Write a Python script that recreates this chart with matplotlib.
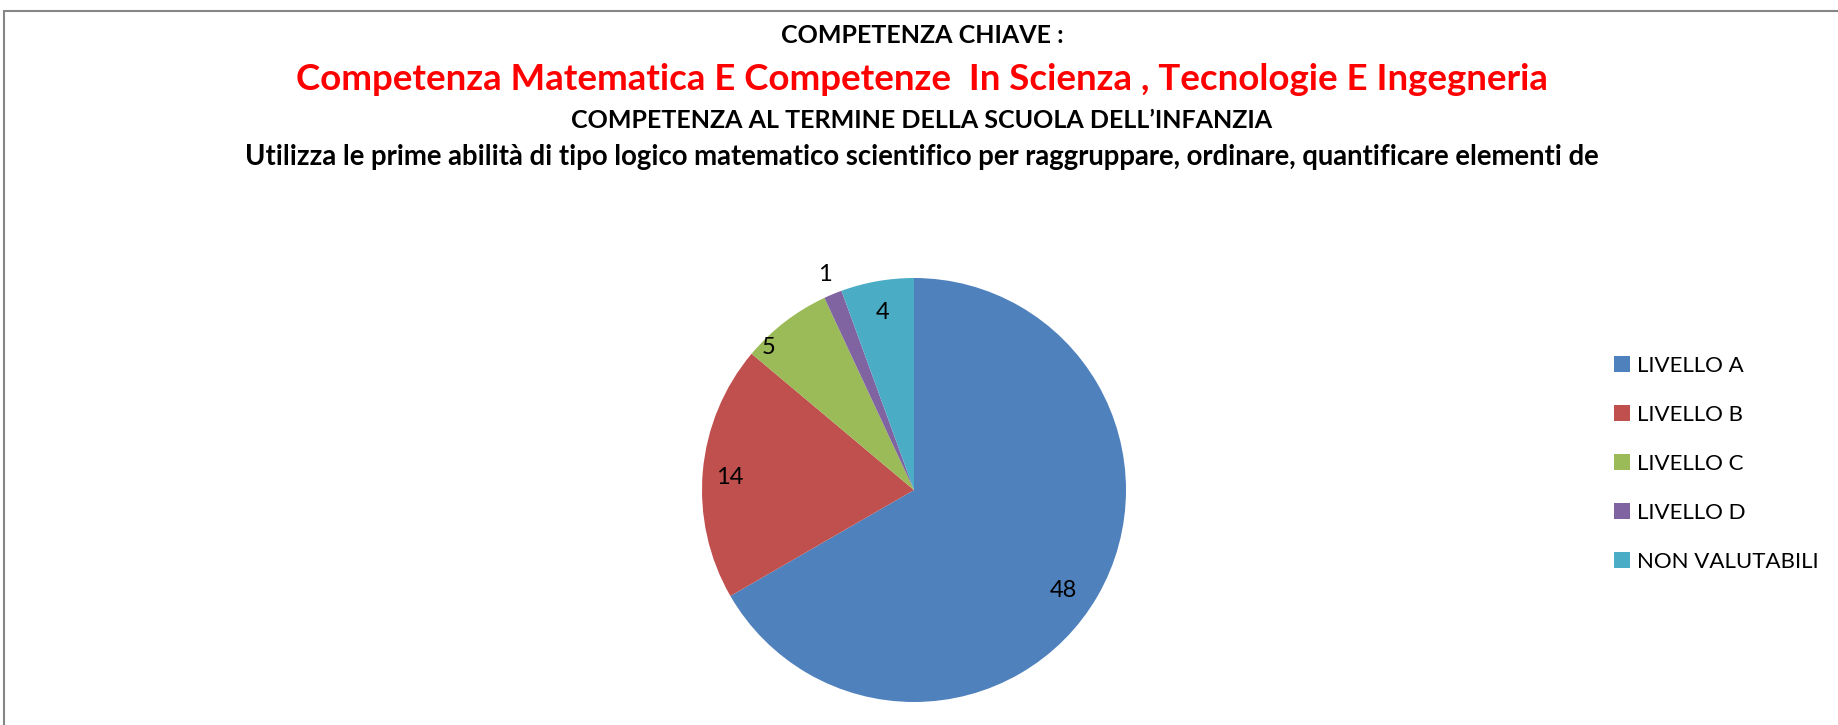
import numpy as np
import matplotlib
matplotlib.use('Agg')
from matplotlib import pyplot as plt
from matplotlib.patches import Rectangle

plt.rcParams['font.family'] = ['Lato', 'DejaVu Sans']

# dati del grafico
livelli = ['LIVELLO A', 'LIVELLO B', 'LIVELLO C', 'LIVELLO D', 'NON VALUTABILI']
valori = [48, 14, 5, 1, 4]
colori = ['#4F81BD', '#C0504D', '#9BBB59', '#8064A2', '#4BACC6']

titoli = ['COMPETENZA CHIAVE :',
          'Competenza Matematica E Competenze  In Scienza , Tecnologie E Ingegneria',
          'COMPETENZA AL TERMINE DELLA SCUOLA DELL\u2019INFANZIA',
          'Utilizza le prime abilità di tipo logico matematico scientifico per raggruppare, ordinare, quantificare elementi de']

W, H = 1838, 725
fig = plt.figure(figsize=(W / 100, H / 100), dpi=100)

# cornice grigia (solo lato sinistro e superiore visibili)
fig.patches.append(Rectangle((4 / W, -0.1), 1.2, (H - 11) / H + 0.1,
                             transform=fig.transFigure, fill=False,
                             edgecolor='#868686', linewidth=1.5))

# titoli: larghezza e linea di base
larghezze = [283, 1255, 701, 1361]
basi = [43, 90, 128, 165]
stili = [('black', 18), ('red', 24), ('black', 18), ('black', 18)]
renderer = fig.canvas.get_renderer()
for t, w, b, (c, s) in zip(titoli, larghezze, basi, stili):
    txt = fig.text(922 / W, 1 - b / H, t, ha='center', va='baseline',
                   color=c, fontsize=s, fontweight='bold')
    wid = txt.get_window_extent(renderer).width
    txt.set_fontsize(s * w / wid)

# torta
r = 212
ax = fig.add_axes([(914 - r) / W, (H - 490 - r) / H, 2 * r / W, 2 * r / H])
wedges, _ = ax.pie(valori, colors=colori, startangle=90, counterclock=False,
                   wedgeprops=dict(linewidth=0))
ax.set_xlim(-1, 1)
ax.set_ylim(-1, 1)
ax.axis('off')

# etichette (posizione "adatta" come in Excel)
dist = [0.85, 0.87, 0.96, 1.1, 0.85]
spost = [-4, 1, 8, 0, 0]
for w, v, d, da in zip(wedges, valori, dist, spost):
    ang = np.deg2rad((w.theta1 + w.theta2) / 2 + da)
    ax.text(d * np.cos(ang), d * np.sin(ang), str(v), ha='center', va='center',
            fontsize=17, color='black')

# legenda
fig.legend(wedges, livelli, loc='upper left',
           bbox_to_anchor=(1614 / W, 1 - 356 / H), frameon=False,
           fontsize=16, handlelength=0.7, handleheight=0.7, handletextpad=0.35,
           labelspacing=1.3, borderpad=0, borderaxespad=0)

fig.savefig('out.png', dpi=100)
